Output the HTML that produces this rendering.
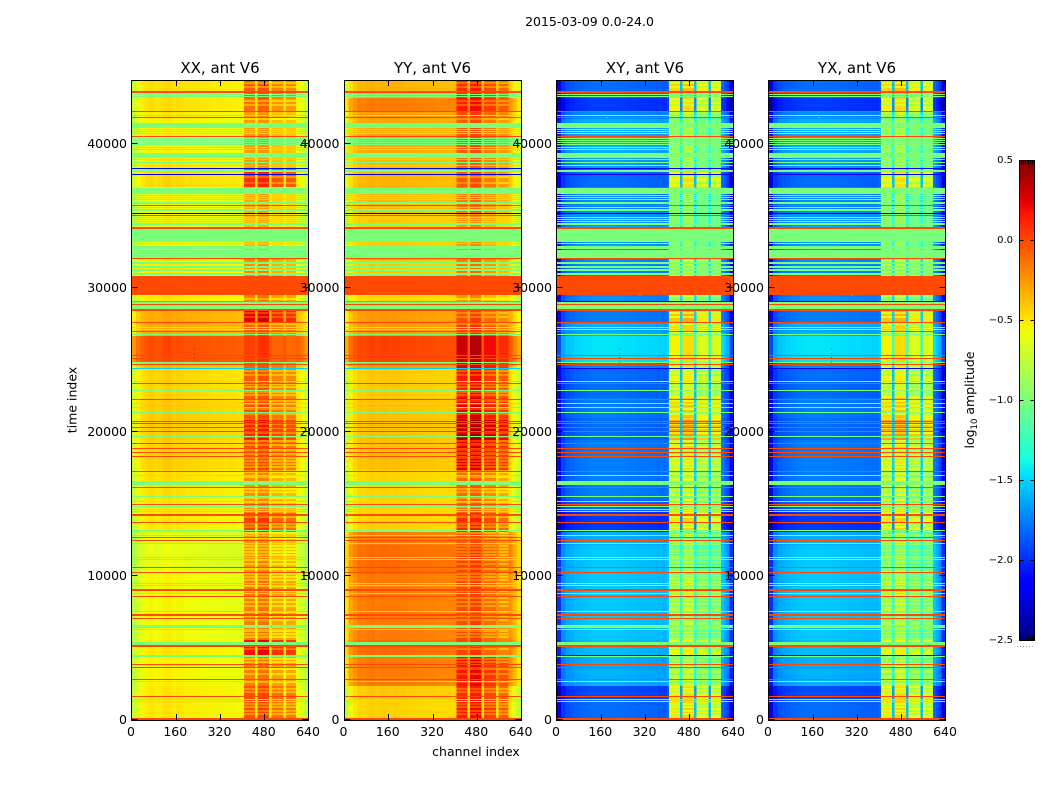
<!DOCTYPE html>
<html lang="en">
<head>
<meta charset="utf-8">
<title>2015-03-09 0.0-24.0</title>
<style>
html,body{margin:0;padding:0;background:#fff;}
svg{display:block;font-family:"DejaVu Sans","Liberation Sans",sans-serif;fill:#000;}
</style>
</head>
<body>
<svg id="chart" xmlns="http://www.w3.org/2000/svg" width="1050" height="800" viewBox="0 0 1050 800">
  <rect x="0" y="0" width="1050" height="800" fill="#ffffff"/>
  <g id="panels"></g>
  <text x="589.5" y="26" font-size="12.5" text-anchor="middle">2015-03-09 0.0-24.0</text>
  <text transform="translate(76.5,400) rotate(-90)" font-size="12.5" text-anchor="middle">time index</text>
  <text x="476" y="756" font-size="12.5" text-anchor="middle">channel index</text>
  <g id="colorbar"></g>
  <text transform="translate(974,400) rotate(-90)" font-size="12.5" text-anchor="middle">log<tspan font-size="8.5" dy="3">10</tspan><tspan dy="-3"> amplitude</tspan></text>
</svg>
<script>
// ---- data ----
const panelNames = ["XX, ant V6", "YY, ant V6", "XY, ant V6", "YX, ant V6"];
const channelTicks = [0, 160, 320, 480, 640];
const timeTicks = [0, 10000, 20000, 30000, 40000];
const colorTicks = [-2.5, -2.0, -1.5, -1.0, -0.5, 0.0, 0.5];

// channel bin edges
const channelEdges = [0,16,32,48,64,80,96,112,128,144,160,176,192,208,224,240,256,272,288,304,320,336,352,368,384,400,407,447,456,497,507,549,558,595,605,615,625,640];
// 1 = bin sits in an interference block
const rfiBins = [0,0,0,0,0,0,0,0,0,0,0,0,0,0,0,0,0,0,0,0,0,0,0,0,0,0,1,0,1,0,1,0,1,0,0,0,0];

// per-channel offset on log10 amplitude
const xxShape = [-.2,-.08,-.01,.03,.05,.02,.03,.06,.07,.03,.05,.04,.02,.03,.02,.02,.01,.01,0,0,0,-.01,0,-.01,-.02,-.02,.03,.02,.08,.02,-.08,.02,-.1,-.03,-.05,-.1,-.2];
const yyShape = [-.3,-.1,-.02,.03,.02,.04,.06,.03,.05,.05,.04,.05,.04,.04,.03,.03,.02,.03,.02,.02,.02,.01,.01,.01,.01,0,.05,-.02,.1,-.02,-.05,-.02,-.15,-.02,-.1,-.18,-.3];
const xyShape = [-.4,-.12,-.05,-.02,0,.02,.03,.04,.05,.05,.05,.05,.05,.05,.04,.04,.03,.03,.02,.02,.02,.01,.01,0,0,.05,0,.3,.08,.3,-.1,.3,-.1,.05,-.02,-.12,-.4];
const yxShape = [-.4,-.12,-.05,-.02,0,.02,.03,.04,.05,.05,.05,.05,.05,.05,.04,.04,.03,.03,.02,.02,.02,.01,.01,0,0,.05,0,.3,.08,.3,-.1,.3,-.1,.05,-.02,-.12,-.4];

// time bands, ascending time index
const timeEdges = [0,1389,2361,4514,5555,7639,10139,12152,13055,14444,15277,17360,19443,20971,22360,24374,24860,26665,27637,28401,29512,30832,32638,35207,37026,38331,39373,41733,42220,43193,44444];

// log10 amplitude per time band: quiet channels, then interference blocks
const xxQuiet = [-.55,-.55,-.58,-.55,-.6,-.6,-.65,-.65,-.55,-.55,-.52,-.47,-.45,-.45,-.48,-.4,-.05,-.35,-.35,-.55,0,-.55,-.6,-.6,-.5,-.55,-.58,-.55,-.52,-.52];
const xxRfi = [-.05,-.05,-.2,.15,-.2,-.2,-.25,-.3,0,-.25,-.25,-.05,.1,-.05,-.1,-.1,0,-.1,.2,-.2,0,-.25,-.4,-.35,.05,-.3,-.3,-.3,-.15,-.1];
const yyQuiet = [-.48,-.45,-.2,-.15,-.2,-.2,-.15,-.2,-.48,-.48,-.48,-.42,-.42,-.42,-.45,-.3,-.02,-.3,-.3,-.5,0,-.45,-.45,-.4,-.38,-.4,-.35,-.3,-.2,-.38];
const yyRfi = [.1,.05,.12,-.03,-.05,-.05,-.02,-.1,.05,-.15,-.15,.2,.35,.2,.1,.2,.25,0,-.05,-.3,0,-.2,-.3,-.2,-.1,-.15,-.1,-.05,.1,.05];
const xyQuiet = [-1.85,-1.95,-1.65,-1.62,-1.58,-1.58,-1.58,-1.65,-2,-1.85,-1.8,-1.8,-1.85,-1.8,-1.85,-1.75,-1.5,-1.65,-1.8,-1.75,0,-1.75,-1.7,-1.75,-1.85,-1.7,-1.65,-1.75,-2,-1.85];
const xyRfi = [-.5,-.55,-.75,-.6,-.8,-.75,-.85,-.85,-.5,-.7,-.7,-.55,-.3,-.45,-.6,-.6,-.55,-.5,-.4,-.8,0,-.8,-.95,-.95,-.55,-.9,-.9,-.8,-.55,-.45];
const yxQuiet = [-1.85,-1.95,-1.65,-1.62,-1.58,-1.58,-1.58,-1.65,-2,-1.85,-1.8,-1.8,-1.85,-1.8,-1.85,-1.75,-1.5,-1.65,-1.8,-1.75,0,-1.75,-1.7,-1.75,-1.85,-1.7,-1.65,-1.75,-2,-1.85];
const yxRfi = [-.5,-.55,-.75,-.6,-.8,-.75,-.85,-.85,-.5,-.7,-.7,-.55,-.3,-.45,-.6,-.6,-.55,-.5,-.4,-.8,0,-.8,-.95,-.95,-.55,-.9,-.9,-.8,-.55,-.45];

// integrations where the interference blocks dip below the band level
const rfiDipTimes = [44164,43886,42914,42636,41664,37637,37220,29165,28193,27915,27429,26873,24165,23887,23262,23054,22707,22499,22082,21874,21526,21179,20832,20485,20207,19860,19582,19304,19027,18680,18402,18124,17916,17707,17499,17152,16804,15971,15763,15346,15069,14721,14374,14027,13541,13332,12916,12569,12013,11805,11597,11388,11041,10763,10416,10069,9860,9652,9236,8888,8402,8124,7847,7430,7152,6875,6111,5902,5694,4861,4166,3958,3472,3125,2569,2083,1875,1042,833,555,347];
const rfiDipDepth = [0.2];
const rfiDipSpan = [139];

// flagged integrations drawn across all channels
const flagStart = [43539,43400,43261,42220,41942,41803,41108,40970,40831,40692,40484,40345,40206,40067,39928,39720,39581,39025,38886,38678,38470,38261,38053,37845,36525,36387,36248,36109,35831,35692,35553,35345,35137,34998,34859,34720,34581,34373,34095,33192,33054,32706,32081,32012,31665,31387,31179,30901,29512,29026,28887,28818,28540,28401,27568,27220,27082,26943,26734,25276,25068,24790,24651,24374,23471,23332,22846,22221,21943,21665,21318,20693,20554,20276,19999,19652,19165,18818,18540,18263,17221,16943,16318,16110,15485,15138,14930,14791,14582,14444,14166,13680,13124,12777,12638,12430,12222,11249,11110,10555,10208,9444,9305,8958,8749,8541,7500,7222,7013,6388,6250,5208,5069,4444,4375,3819,3611,2778,2639,1597,1389,1250,0];
const flagSpan = [139,70,70,70,70,70,347,70,70,70,70,70,70,70,70,70,70,347,70,70,70,70,139,70,417,70,70,70,139,70,70,139,70,70,70,70,70,139,139,903,70,208,556,70,139,139,139,139,1319,70,139,70,278,139,70,70,70,70,70,70,70,70,70,70,70,70,70,70,70,70,70,70,70,70,70,70,70,70,70,70,70,70,278,70,70,70,70,70,70,70,139,70,70,70,70,70,70,70,70,70,70,70,70,139,70,70,70,139,70,208,70,208,139,70,70,70,70,70,70,70,70,70,139];
// log10 amplitude of each flagged row on XX/YY and on XY/YX
const flagLevelParallel = [0,-1,-1,0,-1,0,-1,-1,-1,-1,0,-1,-1,-1,-1,-1,-1,-1,-1,-1,-1,-2.2,-1,-2.2,-1,-1,-1,-1,-1,0,-1,-1,-2.4,0,-1,-1,-1,-1,0,-1,-1,-1,-1,0,-1,-1,-1,-1,0,-1.5,-1,0,-1,0,0,-1,-1,0,-1,0,0,-1,0,-1.5,-1,0,-1,0,-1,-1,-1,0,0,0,0,-1,0,0,0,0,0,-1,-1,0,-1,-1,0,-1,-1,-1,0,0,-1,-1,0,0,-1,-1,-1,0,0,-1,-1,0,-1,0,-1,0,0,-1,-1,-1,0,-1,-1,0,0,0,-1,0,-1,-1,0];
const flagLevelCross = [0,-1,-1,0,-1,0,-1,-1,-1,-1,0,-1,-1,-1,-1,-1,-1,-1,-1,-1,-1,-2.2,-1,-2.2,-1,-1,-1,-1,-1,0,-1,-1,-2.4,0,-1,-1,-1,-1,0,-1,-1,-1,-1,0,-1,-1,-1,-1,0,-2.2,-1,0,-1,0,0,-1,-1,0,-1,0,0,-1,0,-2.2,-1,0,-1,0,-1,-1,-1,0,0,0,0,-1,0,0,0,0,0,-1,-1,0,-1,-1,0,-1,-1,-1,0,0,-1,-1,0,0,-1,-1,-1,0,0,-1,-1,0,-1,0,-1,0,0,-1,-1,-1,0,-2.1,-1,0,0,0,-1,0,-1,-1,0];

// isolated hot pixels: channel, time index, log10 amplitude
const xxSpotChannel = [226,226,226];
const xxSpotTime = [25800,25500,25200];
const xxSpotLevel = [.25,.25,.25];
const xySpotChannel = [226,226,226,226,180,300];
const xySpotTime = [25800,25500,25200,24900,41860,29550];
const xySpotLevel = [.1,.1,.1,.1,-.45,-.45];

// ---- axes and colours ----
const TIME_MAX = 44444, CHANNEL_MAX = 640;
const PLOT_TOP = 80, PLOT_BOTTOM = 720, PLOT_WIDTH = 177;
const panelLefts = [131.5, 344, 556.5, 768.5];
const COLOR_MIN = -2.5, COLOR_MAX = 0.5;
const NS = "http://www.w3.org/2000/svg";

function timeY(t) { return PLOT_BOTTOM - (t / TIME_MAX) * (PLOT_BOTTOM - PLOT_TOP); }
function channelX(left, c) { return left + (c / CHANNEL_MAX) * PLOT_WIDTH; }

function ramp(n, pts) {
  for (let i = 1; i < pts.length; i++) {
    if (n <= pts[i][0]) {
      const a = pts[i - 1], b = pts[i];
      return a[1] + (b[1] - a[1]) * (n - a[0]) / (b[0] - a[0]);
    }
  }
  return pts[pts.length - 1][1];
}
const JET_R = [[0,0],[.35,0],[.66,1],[.89,1],[1,.5]];
const JET_G = [[0,0],[.125,0],[.375,1],[.64,1],[.91,0],[1,0]];
const JET_B = [[0,.5],[.11,1],[.34,1],[.65,0],[1,0]];
function jet(level) {
  const n = Math.max(0, Math.min(1, (level - COLOR_MIN) / (COLOR_MAX - COLOR_MIN)));
  const r = Math.round(255 * ramp(n, JET_R));
  const g = Math.round(255 * ramp(n, JET_G));
  const b = Math.round(255 * ramp(n, JET_B));
  return "rgb(" + r + "," + g + "," + b + ")";
}
function make(tag, parent) {
  const el = document.createElementNS(NS, tag);
  parent.appendChild(el);
  return el;
}
function box(el, x, y, w, h, fill) {
  el.setAttribute("x", x.toFixed(2));
  el.setAttribute("y", y.toFixed(2));
  el.setAttribute("width", w.toFixed(2));
  el.setAttribute("height", h.toFixed(2));
  el.setAttribute("fill", fill);
  el.setAttribute("shape-rendering", "crispEdges");
}
function line(parent, x1, y1, x2, y2, name) {
  const el = make("line", parent);
  
  
  el.setAttribute("x1", x1);
  el.setAttribute("y1", y1);
  el.setAttribute("x2", x2);
  el.setAttribute("y2", y2);
  el.setAttribute("stroke", "#000");
  el.setAttribute("stroke-width", "1");
  el.setAttribute("shape-rendering", "crispEdges");
  return el;
}
function bandAt(t) {
  for (let b = 0; b < timeEdges.length - 1; b++) {
    if (t < timeEdges[b + 1]) return b;
  }
  return timeEdges.length - 2;
}

// ---- panels ----
const panelSeries = [
  { quiet: xxQuiet, rfi: xxRfi, shape: xxShape, flags: flagLevelParallel, spotC: xxSpotChannel, spotT: xxSpotTime, spotL: xxSpotLevel },
  { quiet: yyQuiet, rfi: yyRfi, shape: yyShape, flags: flagLevelParallel, spotC: [], spotT: [], spotL: [] },
  { quiet: xyQuiet, rfi: xyRfi, shape: xyShape, flags: flagLevelCross, spotC: xySpotChannel, spotT: xySpotTime, spotL: xySpotLevel },
  { quiet: yxQuiet, rfi: yxRfi, shape: yxShape, flags: flagLevelCross, spotC: xySpotChannel, spotT: xySpotTime, spotL: xySpotLevel }
];

const panelsRoot = document.getElementById("panels");
panelSeries.forEach(function (series, p) {
  const left = panelLefts[p];
  const frameLeft = Math.floor(left) + 0.5;
  const frameRight = frameLeft + PLOT_WIDTH;
  const g = make("g", panelsRoot);
  
  

  // heatmap cells
  for (let b = 0; b < timeEdges.length - 1; b++) {
    const y0 = timeY(timeEdges[b + 1]);
    const y1 = timeY(timeEdges[b]);
    for (let c = 0; c < channelEdges.length - 1; c++) {
      const x0 = channelX(left, channelEdges[c]);
      const x1 = channelX(left, channelEdges[c + 1]);
      const base = rfiBins[c] ? series.rfi[b] : series.quiet[b];
      const cell = make("rect", g);
      
      
      box(cell, x0, y0, x1 - x0, y1 - y0, jet(base + series.shape[c]));
    }
  }

  // dips inside the interference blocks
  rfiDipTimes.forEach(function (t) {
    const band = bandAt(t);
    for (let c = 0; c < channelEdges.length - 1; c++) {
      if (!rfiBins[c]) continue;
      const x0 = channelX(left, channelEdges[c]);
      const x1 = channelX(left, channelEdges[c + 1]);
      const dip = make("rect", g);
      
      
      box(dip, x0, timeY(t + rfiDipSpan[0]), x1 - x0, rfiDipSpan[0] / TIME_MAX * (PLOT_BOTTOM - PLOT_TOP), jet(series.rfi[band] + series.shape[c] - rfiDipDepth[0]));
    }
  });

  // flagged rows
  flagStart.forEach(function (t, i) {
    const y0 = timeY(t + flagSpan[i]);
    const y1 = timeY(t);
    const row = make("rect", g);
    
    
    box(row, left, y0, PLOT_WIDTH, y1 - y0, jet(series.flags[i]));
  });

  // hot pixels
  series.spotC.forEach(function (c, i) {
    const spot = make("rect", g);
    
    
    box(spot, channelX(left, c), timeY(series.spotT[i]), 1, 1, jet(series.spotL[i]));
  });

  // ticks
  const TICK = 6;
  channelTicks.forEach(function (c) {
    const x = Math.floor(channelX(left, c) + 0.5) + 0.5;
    if (c > 0 && c < CHANNEL_MAX) {
      line(g, x, PLOT_BOTTOM, x, PLOT_BOTTOM - TICK, "x-tick-bottom");
      line(g, x, PLOT_TOP, x, PLOT_TOP + TICK, "x-tick-top");
    }
    const label = make("text", g);
    
    
    label.setAttribute("x", channelX(left, c) - 0.5);
    label.setAttribute("y", PLOT_BOTTOM + 16);
    label.setAttribute("font-size", "12.5");
    label.setAttribute("text-anchor", "middle");
    label.textContent = String(c);
  });
  timeTicks.forEach(function (t) {
    const y = Math.round(timeY(t)) - 0.5;
    line(g, frameLeft, y, frameLeft + TICK, y, "y-tick-left");
    line(g, frameRight, y, frameRight - TICK, y, "y-tick-right");
    const label = make("text", g);
    
    
    label.setAttribute("x", left - 4.5);
    label.setAttribute("y", timeY(t) + 4);
    label.setAttribute("font-size", "12.5");
    label.setAttribute("text-anchor", "end");
    label.textContent = String(t);
  });

  // frame and title
  const frame = make("rect", g);
  
  
  frame.setAttribute("x", frameLeft);
  frame.setAttribute("y", PLOT_TOP + 0.5);
  frame.setAttribute("width", PLOT_WIDTH);
  frame.setAttribute("height", PLOT_BOTTOM - PLOT_TOP);
  frame.setAttribute("fill", "none");
  frame.setAttribute("stroke", "#000");
  frame.setAttribute("stroke-width", "1");
  frame.setAttribute("shape-rendering", "crispEdges");

  const title = make("text", g);
  
  
  title.setAttribute("x", left + PLOT_WIDTH / 2);
  title.setAttribute("y", PLOT_TOP - 7);
  title.setAttribute("font-size", "15");
  title.setAttribute("text-anchor", "middle");
  title.textContent = panelNames[p];
});

// ---- colorbar ----
const BAR_LEFT = 1019.5, BAR_RIGHT = 1034.5, BAR_TOP = 160.5, BAR_BOTTOM = 640.5;
function colorY(v) { return BAR_BOTTOM - ((v - COLOR_MIN) / (COLOR_MAX - COLOR_MIN)) * (BAR_BOTTOM - BAR_TOP); }
const barRoot = document.getElementById("colorbar");
const barRows = BAR_BOTTOM - BAR_TOP;
for (let i = 0; i < barRows; i++) {
  const level = COLOR_MIN + (i + 0.5) / barRows * (COLOR_MAX - COLOR_MIN);
  const strip = make("rect", barRoot);
  
  
  box(strip, BAR_LEFT, BAR_BOTTOM - i - 1, BAR_RIGHT - BAR_LEFT, 1, jet(level));
}
colorTicks.forEach(function (v) {
  const y = colorY(v);
  if (v > COLOR_MIN && v < COLOR_MAX) {
    line(barRoot, BAR_LEFT, y, BAR_LEFT + 4, y, "colorbar-tick");
    line(barRoot, BAR_RIGHT, y, BAR_RIGHT - 4, y, "colorbar-tick");
  }
  const label = make("text", barRoot);
  
  
  label.setAttribute("x", 1013);
  label.setAttribute("y", y + 2.5);
  label.setAttribute("font-size", "10");
  label.setAttribute("text-anchor", "end");
  label.textContent = (v < 0 ? "\u2212" : "") + Math.abs(v).toFixed(1);
});
for (let k = 1; k < 7; k++) {
  const x = BAR_LEFT + Math.round(k * 2.14);
  line(barRoot, x, BAR_TOP, x, BAR_TOP + 4, "colorbar-edge-tick");
  line(barRoot, x, BAR_BOTTOM, x, BAR_BOTTOM - 4, "colorbar-edge-tick");
}
const barFrame = make("rect", barRoot);


barFrame.setAttribute("x", BAR_LEFT);
barFrame.setAttribute("y", BAR_TOP);
barFrame.setAttribute("width", BAR_RIGHT - BAR_LEFT);
barFrame.setAttribute("height", BAR_BOTTOM - BAR_TOP);
barFrame.setAttribute("fill", "none");
barFrame.setAttribute("stroke", "#000");
barFrame.setAttribute("stroke-width", "1");
barFrame.setAttribute("shape-rendering", "crispEdges");
const dots = make("line", barRoot);


dots.setAttribute("x1", "1017");
dots.setAttribute("y1", "646.5");
dots.setAttribute("x2", "1035");
dots.setAttribute("y2", "646.5");
dots.setAttribute("stroke", "#999");
dots.setAttribute("stroke-width", "1");
dots.setAttribute("stroke-dasharray", "1 2");
</script>
</body>
</html>
